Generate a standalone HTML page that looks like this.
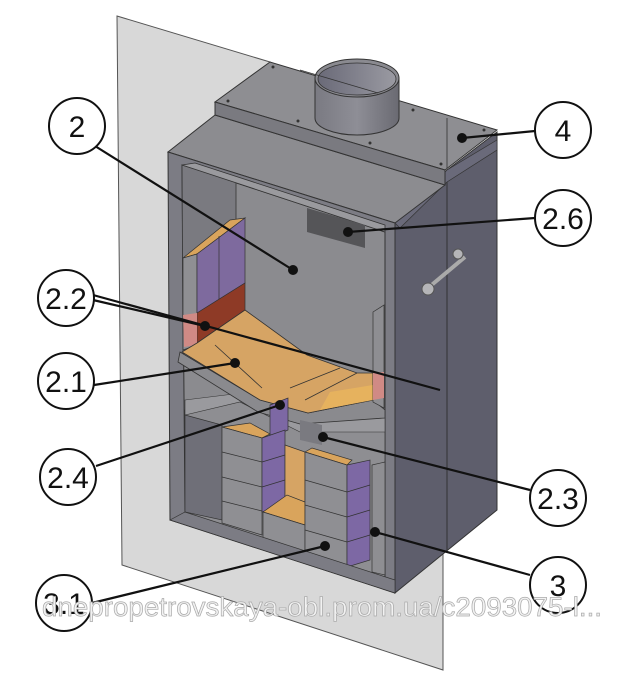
<!DOCTYPE html>
<html><head><meta charset="utf-8"><style>
html,body{margin:0;padding:0;background:#fff;}
svg{display:block;}
text{font-family:"Liberation Sans",sans-serif;}
</style></head><body>
<svg width="640" height="684" viewBox="0 0 640 684" xmlns="http://www.w3.org/2000/svg">
<defs>
<linearGradient id="pg" x1="0" x2="1" y1="0" y2="0"><stop offset="0" stop-color="#7a7a82"/><stop offset="0.5" stop-color="#8e8e96"/><stop offset="1" stop-color="#6a6a72"/></linearGradient>
<linearGradient id="pi" x1="0" x2="1" y1="0" y2="0"><stop offset="0" stop-color="#6a6a78"/><stop offset="1" stop-color="#9a9aa2"/></linearGradient>
</defs>
<!-- glass plane -->
<polygon points="117,16 270,62 443,140 443,670 122,565" fill="#d8d8d8" stroke="#555" stroke-width="1"/>
<!-- right side face -->
<polygon points="395,223 447,170 497,132 497,510 395,593" fill="#5e5e6c" stroke="#333" stroke-width="1"/>
<line x1="447" y1="170" x2="447" y2="552" stroke="#333" stroke-width="1"/>
<polygon points="395,223 447,170 497,140 497,150 447,182 400,228" fill="#6a6a7a" stroke="#333" stroke-width="0.7"/>
<!-- top sloped surface -->
<polygon points="168,152 215,115 445,185 395,223" fill="#8c8c90" stroke="#333" stroke-width="1"/>
<!-- top plate -->
<polygon points="215,102 270,62 497,130 445,170" fill="#8e8e92" stroke="#333" stroke-width="1"/>
<polygon points="215,102 445,170 445,185 215,115" fill="#7a7a80" stroke="#333" stroke-width="1"/>
<line x1="447" y1="118" x2="447" y2="170" stroke="#444" stroke-width="1"/>
<g fill="#333"><circle cx="273" cy="67" r="1.5"/><circle cx="228" cy="101" r="1.5"/><circle cx="298" cy="121" r="1.5"/><circle cx="370" cy="143" r="1.5"/><circle cx="413" cy="110" r="1.5"/><circle cx="484" cy="130" r="1.5"/><circle cx="441" cy="164" r="1.5"/></g>
<!-- pipe -->
<path d="M315,78 L315,118 A42,17 0 0 0 399,118 L399,78 Z" fill="url(#pg)" stroke="#333" stroke-width="1"/>
<ellipse cx="357" cy="78" rx="42" ry="19" fill="#8a8a90" stroke="#333" stroke-width="1"/>
<ellipse cx="357" cy="79" rx="39" ry="16" fill="url(#pi)" stroke="#333" stroke-width="0.8"/>
<line x1="300" y1="70" x2="378" y2="93" stroke="#333" stroke-width="0.8"/>
<!-- handle -->
<line x1="428" y1="288" x2="465" y2="257" stroke="#aaa" stroke-width="4"/>
<circle cx="428" cy="289" r="6" fill="#b5b5b8" stroke="#555"/>
<circle cx="458" cy="254" r="5" fill="#b5b5b8" stroke="#555"/>
<!-- front frame -->
<polygon points="168,152 395,223 395,593 170,520" fill="#7c7c84" stroke="#333" stroke-width="1"/>
<!-- interior back wall -->
<polygon points="182,165 385,232 385,585 185,512" fill="#8b8b8f" stroke="#333" stroke-width="1"/>
<!-- left inner wall -->
<polygon points="182,165 236,182 236,330 183,352" fill="#7a7a80" stroke="#333" stroke-width="0.8"/>
<polygon points="182,165 385,232 385,225 195,163" fill="#9a9a9e" stroke="#333" stroke-width="0.8"/>
<!-- dark panel -->
<polygon points="307,208 365,225 365,248 307,232" fill="#555558"/>
<!-- upper left brick -->
<polygon points="183,258 230,220 245,218 197,254" fill="#d9a45c" stroke="#333" stroke-width="0.7"/>
<polygon points="183,258 197,254 197,345 183,350" fill="#8f8f93" stroke="#333" stroke-width="0.7"/>
<polygon points="197,254 245,218 245,283 197,313" fill="#7e6a9e" stroke="#333" stroke-width="0.7"/>
<line x1="219" y1="236" x2="219" y2="300" stroke="#333" stroke-width="0.7"/>
<polygon points="197,313 245,283 245,310 197,343" fill="#8e3a26" stroke="#333" stroke-width="0.7"/>
<polygon points="183,315 197,313 197,345 184,347" fill="#d08a85"/>
<!-- lower chamber area -->
<polygon points="185,410 240,395 300,430 385,430 385,585 185,512" fill="#8e8e92" stroke="#333" stroke-width="0.8"/>
<polygon points="185,400 250,392 300,420 385,415 385,432 300,432 240,402 185,415" fill="#9a9a9e" stroke="#333" stroke-width="0.6"/>
<polygon points="185,415 222,425 222,520 185,512" fill="#6f6f78" stroke="#333" stroke-width="0.7"/>
<!-- baffle gray plate -->
<polygon points="180,352 260,400 308,413 373,400 385,410 385,418 300,424 258,412 178,362" fill="#8a8a8e" stroke="#333" stroke-width="0.8"/>
<!-- tan baffle -->
<polygon points="197,343 245,310 307,355 357,373 373,373 373,400 308,413 260,400 182,352" fill="#d6a464" stroke="#333" stroke-width="0.8"/>
<polyline points="215,345 262,388" fill="none" stroke="#333" stroke-width="0.8"/>
<polyline points="290,388 340,368" fill="none" stroke="#333" stroke-width="0.8"/>
<polyline points="305,400 357,373" fill="none" stroke="#333" stroke-width="0.8"/>
<polygon points="330,392 373,385 373,400 320,410" fill="#e6b25e"/>
<!-- right small pillar -->
<polygon points="373,312 384,305 384,408 373,402" fill="#8e8e92" stroke="#333" stroke-width="0.7"/>
<polygon points="373,373 384,372 384,398 373,400" fill="#d08a85"/>
<!-- 2.4 purple piece -->
<polygon points="270,405 288,398 288,430 270,438" fill="#7d68a4" stroke="#333" stroke-width="0.7"/>
<polygon points="300,420 322,425 322,445 300,440" fill="#7a7a80"/>
<!-- left stack -->
<polygon points="222,427 250,423 270,434 262,438" fill="#d9a45c" stroke="#333" stroke-width="0.7"/>
<polygon points="222,427 262,438 262,535 222,523" fill="#8f8f93" stroke="#333" stroke-width="0.7"/>
<polygon points="262,438 285,430 285,505 262,512" fill="#7d68a4" stroke="#333" stroke-width="0.7"/>
<g stroke="#333" stroke-width="0.7"><line x1="222" y1="452" x2="262" y2="462"/><line x1="222" y1="477" x2="262" y2="487"/><line x1="222" y1="501" x2="262" y2="511"/><line x1="262" y1="462" x2="285" y2="455"/><line x1="262" y1="487" x2="285" y2="480"/></g>
<!-- middle tan -->
<polygon points="285,445 305,452 305,502 285,497" fill="#d6a464" stroke="#333" stroke-width="0.7"/>
<polygon points="263,512 287,495 305,502 305,525" fill="#d9a45c" stroke="#333" stroke-width="0.7"/>
<polygon points="263,512 305,525 305,558 263,545" fill="#8f8f93" stroke="#333" stroke-width="0.7"/>
<!-- right stack -->
<polygon points="305,452 312,448 352,460 347,465" fill="#d9a45c" stroke="#333" stroke-width="0.7"/>
<polygon points="305,452 347,465 347,575 305,562" fill="#8f8f93" stroke="#333" stroke-width="0.7"/>
<polygon points="347,465 370,460 370,560 347,567" fill="#7d68a4" stroke="#333" stroke-width="0.7"/>
<g stroke="#333" stroke-width="0.7"><line x1="305" y1="480" x2="347" y2="492"/><line x1="305" y1="505" x2="347" y2="517"/><line x1="305" y1="530" x2="347" y2="542"/><line x1="347" y1="492" x2="370" y2="485"/><line x1="347" y1="517" x2="370" y2="510"/><line x1="347" y1="542" x2="370" y2="535"/></g>
<polygon points="372,465 385,462 385,575 372,572" fill="#8e8e92" stroke="#333" stroke-width="0.7"/>
<!-- bottom frame strip -->
<polygon points="170,520 395,593 395,580 185,512" fill="#7c7c84" stroke="#333" stroke-width="0.7"/>
<!-- leader lines -->
<g stroke="#111" stroke-width="2.2" fill="none">
<line x1="95" y1="146" x2="293" y2="270"/>
<line x1="535" y1="131" x2="462" y2="138"/>
<line x1="535" y1="218" x2="348" y2="232"/>
<line x1="93" y1="300" x2="205" y2="326"/>
<line x1="93" y1="295" x2="440" y2="390"/>
<line x1="94" y1="385" x2="235" y2="363"/>
<line x1="96" y1="466" x2="280" y2="405"/>
<line x1="530" y1="490" x2="323" y2="437"/>
<line x1="530" y1="575" x2="375" y2="532"/>
<line x1="92" y1="603" x2="325" y2="546"/>
</g>
<g fill="#111">
<circle cx="293" cy="270" r="5"/><circle cx="462" cy="138" r="5"/><circle cx="348" cy="232" r="5"/>
<circle cx="205" cy="326" r="5"/><circle cx="235" cy="363" r="5"/><circle cx="280" cy="405" r="5"/>
<circle cx="323" cy="437" r="5"/><circle cx="375" cy="532" r="5"/><circle cx="325" cy="546" r="5"/>
</g>
<!-- label circles -->
<g fill="#fff" stroke="#111" stroke-width="2">
<circle cx="77" cy="126" r="28"/><circle cx="563" cy="130" r="28"/><circle cx="563" cy="218" r="28"/>
<circle cx="66" cy="298" r="28"/><circle cx="66" cy="381" r="28"/><circle cx="68" cy="477" r="28"/>
<circle cx="558" cy="498" r="28"/><circle cx="558" cy="585" r="28"/><circle cx="64" cy="603" r="28"/>
</g>
<g font-size="30" fill="#111" text-anchor="middle">
<text x="77" y="137">2</text><text x="563" y="141">4</text><text x="563" y="229">2.6</text>
<text x="66" y="309">2.2</text><text x="66" y="392">2.1</text><text x="68" y="488">2.4</text>
<text x="558" y="509">2.3</text><text x="558" y="596">3</text><text x="64" y="614">3.1</text>
</g>
<!-- watermark -->
<text x="42" y="616" font-size="27" fill="#f2f2f2" stroke="#aaaaaa" stroke-width="0.7" textLength="560" lengthAdjust="spacingAndGlyphs">dnepropetrovskaya-obl.prom.ua/c2093075-l...</text>
</svg>
</body></html>
